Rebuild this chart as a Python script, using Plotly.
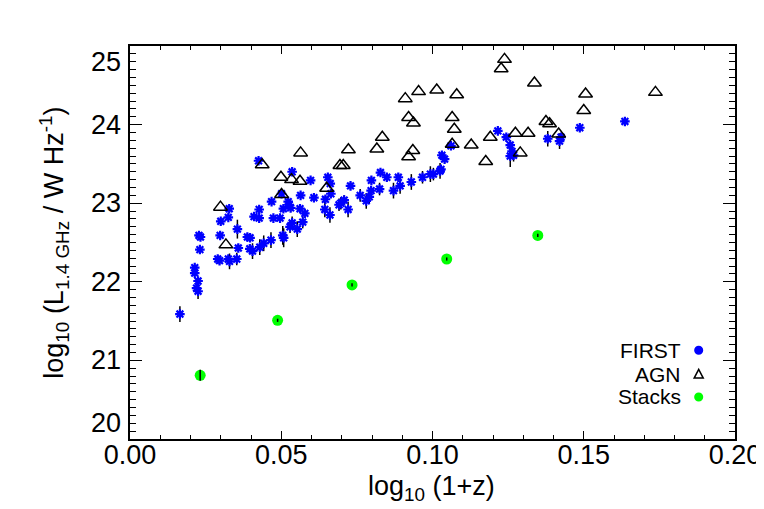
import plotly.graph_objects as go

# FIRST detections: log10(1+z), log10 L1.4GHz, error
first_x = [0.0165, 0.0214, 0.0214, 0.0225, 0.0220, 0.0225, 0.0228, 0.0233, 0.0231, 0.0290,
           0.0296, 0.0300, 0.0298, 0.0325, 0.0328, 0.0325, 0.0329, 0.0353, 0.0355, 0.0358,
           0.0388, 0.0397, 0.0396, 0.0405, 0.0410, 0.0425, 0.0427, 0.0427, 0.0429, 0.0442,
           0.0466, 0.0468, 0.0474, 0.0496, 0.0501, 0.0505, 0.0508, 0.0507, 0.0523, 0.0526,
           0.0531, 0.0529, 0.0536, 0.0536, 0.0553, 0.0562, 0.0564, 0.0571, 0.0578, 0.0597,
           0.0608, 0.0644, 0.0646, 0.0654, 0.0662, 0.0664, 0.0661, 0.0691, 0.0697, 0.0708,
           0.0721, 0.0729, 0.0761, 0.0781, 0.0791, 0.0797, 0.0798, 0.0825, 0.0828, 0.0849,
           0.0871, 0.0887, 0.0893, 0.0930, 0.0967, 0.0993, 0.1003, 0.1025, 0.1028, 0.1031,
           0.1040, 0.1061, 0.1216, 0.1244, 0.1257, 0.1263, 0.1257, 0.1268, 0.1381, 0.1420,
           0.1425, 0.1487, 0.1636]
first_y = [21.59, 22.18, 22.11, 22.01, 21.92, 21.88, 22.59, 22.57, 22.41, 22.29,
           22.27, 22.77, 22.59, 22.82, 22.93, 22.29, 22.26, 22.29, 22.67, 22.43,
           22.57, 22.56, 22.42, 22.39, 22.83, 23.54, 22.92, 22.81, 22.44, 22.49,
           22.53, 23.02, 22.81, 22.81, 23.12, 22.59, 22.56, 22.93, 23.02, 22.98,
           22.94, 22.70, 22.75, 23.40, 22.67, 22.93, 23.10, 22.76, 22.87, 23.29,
           23.07, 22.92, 23.05, 23.33, 23.25, 23.12, 22.85, 22.98, 23.00, 23.04,
           22.92, 23.22, 23.10, 23.03, 23.08, 23.16, 23.29, 23.18, 23.39, 23.33,
           23.16, 23.33, 23.22, 23.27, 23.33, 23.37, 23.37, 23.41, 23.43, 23.61,
           23.56, 23.73, 23.92, 23.84, 23.74, 23.66, 23.60, 23.61, 23.82, 23.79,
           23.84, 23.96, 24.04]
first_err = [0.10, 0.04, 0.04, 0.05, 0.05, 0.10, 0.04, 0.04, 0.04, 0.05,
             0.05, 0.04, 0.04, 0.04, 0.04, 0.05, 0.10, 0.08, 0.12, 0.05,
             0.05, 0.05, 0.06, 0.10, 0.04, 0.04, 0.04, 0.04, 0.10, 0.10,
             0.10, 0.04, 0.04, 0.04, 0.05, 0.12, 0.12, 0.04, 0.04, 0.05,
             0.05, 0.08, 0.08, 0.04, 0.10, 0.04, 0.04, 0.08, 0.05, 0.04,
             0.05, 0.10, 0.05, 0.04, 0.05, 0.05, 0.10, 0.08, 0.08, 0.06,
             0.10, 0.05, 0.08, 0.10, 0.08, 0.05, 0.05, 0.08, 0.04, 0.05,
             0.10, 0.05, 0.10, 0.10, 0.08, 0.10, 0.08, 0.10, 0.05, 0.04,
             0.05, 0.04, 0.04, 0.04, 0.06, 0.06, 0.14, 0.08, 0.10, 0.10,
             0.04, 0.04, 0.04]

# AGN
agn_x = [0.0299, 0.0317, 0.0437, 0.0499, 0.0501, 0.0534, 0.0562, 0.0564, 0.0650, 0.0694,
         0.0705, 0.0722, 0.0816, 0.0834, 0.0910, 0.0921, 0.0937, 0.0954, 0.0921, 0.0935,
         0.1014, 0.1080, 0.1065, 0.1072, 0.1065, 0.1128, 0.1176, 0.1191, 0.1227, 0.1238,
         0.1274, 0.1316, 0.1290, 0.1337, 0.1375, 0.1387, 0.1417, 0.1506, 0.1500, 0.1737]
agn_y = [22.95, 22.47, 23.49, 23.33, 23.11, 23.30, 23.28, 23.64, 23.19, 23.48,
         23.48, 23.68, 23.69, 23.84, 24.33, 24.09, 24.02, 24.42, 23.59, 23.67,
         24.44, 24.38, 24.09, 23.94, 23.75, 23.74, 23.53, 23.84, 24.71, 24.83,
         23.89, 23.89, 23.64, 24.53, 24.04, 24.01, 23.88, 24.39, 24.18, 24.41]

# stacked non-detections
stack_x = [0.0232, 0.0488, 0.0734, 0.1047, 0.1348]
stack_y = [20.81, 21.51, 21.96, 22.29, 22.59]
stack_err = [0.07, 0.02, 0.02, 0.02, 0.02]

y_ticks = [20, 21, 22, 23, 24, 25]

FONT = "Liberation Sans, Arial, Helvetica, sans-serif"

fig = go.Figure()

fig.add_trace(go.Scatter(
    x=first_x, y=first_y, mode='markers', name='FIRST',
    error_y=dict(type='data', array=first_err, color='black', thickness=1.5, width=0),
    marker=dict(symbol='asterisk-open', size=8, color='#0000ff',
                line=dict(color='#0000ff', width=2.2))
))

fig.add_trace(go.Scatter(
    x=agn_x, y=agn_y, mode='markers', name='AGN',
    marker=dict(symbol='triangle-up-open', size=12, color='black',
                line=dict(color='black', width=1.5))
))

fig.add_trace(go.Scatter(
    x=stack_x, y=stack_y, mode='markers', name='Stacks',
    marker=dict(symbol='circle', size=11, color='#00ff00', line=dict(width=0))
))
# error bars of the stacks sit on top of the green dots
fig.add_trace(go.Scatter(
    x=stack_x, y=stack_y, mode='markers', showlegend=False, hoverinfo='skip',
    marker=dict(size=1, opacity=0),
    error_y=dict(type='data', array=stack_err, color='black', thickness=1.5, width=0)
))

# y tick labels: end labels kept inside the frame, as IDL does
for v in y_ticks:
    anchor = 'top' if v == y_ticks[-1] else ('bottom' if v == y_ticks[0] else 'middle')
    fig.add_annotation(x=-0.014, y=v, xref='paper', yref='y', text=str(v),
                       showarrow=False, xanchor='right', yanchor=anchor,
                       borderpad=0, font=dict(family=FONT, size=27, color='black'))

# legend like IDL: text then symbol
leg_labels = ['FIRST', 'AGN', 'Stacks']
leg_y = [0.226, 0.165, 0.107]
for lab, yy in zip(leg_labels, leg_y):
    fig.add_annotation(x=0.912, y=yy, xref='paper', yref='paper', text=lab,
                       showarrow=False, xanchor='right', yanchor='middle', borderpad=0,
                       font=dict(family=FONT, size=21, color='black'))
fig.add_shape(type='circle', xref='paper', yref='paper',
              x0=0.940 - 0.0075, x1=0.940 + 0.0075, y0=leg_y[0] - 0.0115, y1=leg_y[0] + 0.0115,
              fillcolor='#0000ff', line=dict(width=0))
fig.add_shape(type='path', xref='paper', yref='paper',
              path='M 0.9325 %.4f L 0.9475 %.4f L 0.940 %.4f Z' % (leg_y[1] - 0.010, leg_y[1] - 0.010, leg_y[1] + 0.012),
              line=dict(color='black', width=1.5))
fig.add_shape(type='circle', xref='paper', yref='paper',
              x0=0.940 - 0.0075, x1=0.940 + 0.0075, y0=leg_y[2] - 0.0115, y1=leg_y[2] + 0.0115,
              fillcolor='#00ff00', line=dict(width=0))

# axis titles
fig.add_annotation(x=0.499, y=-0.125, xref='paper', yref='paper',
                   text='log<sub>10</sub> (1+z)', showarrow=False,
                   xanchor='center', yanchor='middle',
                   font=dict(family=FONT, size=27, color='black'))
fig.add_annotation(x=-0.127, y=0.50, xref='paper', yref='paper',
                   text='log<sub>10</sub> (L<sub>1.4 GHz</sub> / W Hz<sup>-1</sup>)',
                   showarrow=False, textangle=-90, xanchor='center', yanchor='middle',
                   font=dict(family=FONT, size=27, color='black'))

axis_common = dict(showline=True, linecolor='black', linewidth=1.5, mirror='allticks',
                   ticks='inside', tickcolor='black', tickwidth=1.2, showgrid=False,
                   zeroline=False, tickfont=dict(family=FONT, size=27, color='black'))

fig.update_xaxes(range=[0, 0.2], tickvals=[0, 0.05, 0.1, 0.15, 0.2], tickformat='.2f',
                 ticklen=8, ticklabelstandoff=-9,
                 minor=dict(ticks='inside', dtick=0.01, ticklen=4, tickcolor='black', tickwidth=1.2),
                 **axis_common)
fig.update_yaxes(range=[20, 25], tickvals=y_ticks, ticklen=12, showticklabels=False,
                 minor=dict(ticks='inside', dtick=0.1, ticklen=6, tickcolor='black', tickwidth=1.2),
                 **axis_common)

fig.update_layout(width=764, height=509, showlegend=False,
                  margin=dict(l=122, r=37, t=38, b=78),
                  plot_bgcolor='white', paper_bgcolor='white',
                  font=dict(family=FONT, color='black'))

fig.write_html("out.html")
